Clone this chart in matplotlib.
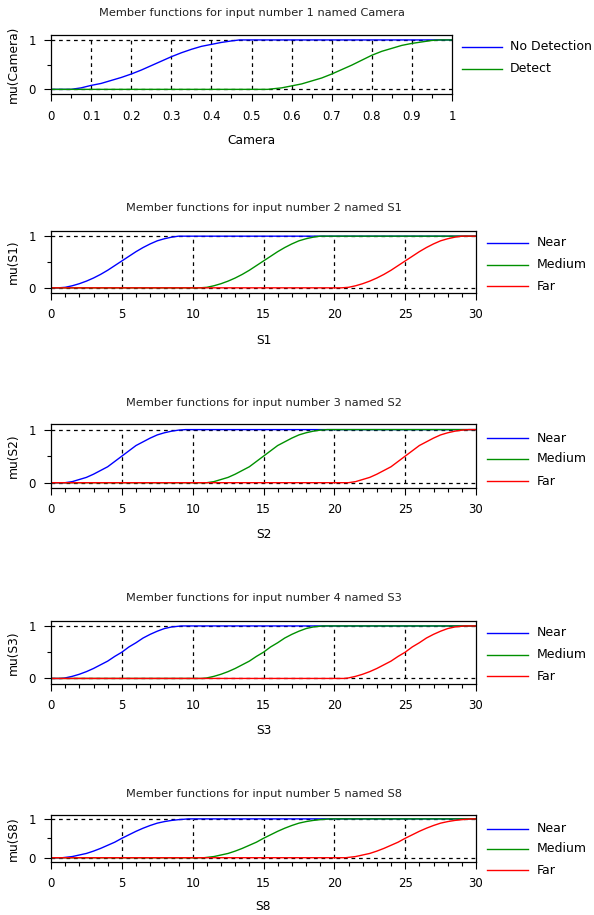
import matplotlib
matplotlib.use("Agg")
import matplotlib.pyplot as plt
from matplotlib.lines import Line2D

W, H = 594, 915

# ---- data ----
cam_x_nodet = [0, .05, .075, .1, .125, .15, .175, .2, .225, .25, .275, .3, .325, .35, .375, .4, .425, .45, .47, 1]
cam_y_nodet = [0, 0, .03, .08, .12, .18, .24, .31, .39, .48, .57, .66, .74, .81, .87, .91, .95, .98, 1, 1]
cam_x_det = [0, .54, .575, .6, .625, .65, .675, .7, .725, .75, .775, .8, .825, .85, .875, .9, .925, .95, .97, 1]
cam_y_det = [0, 0, .03, .07, .11, .17, .23, .31, .40, .49, .59, .69, .77, .83, .89, .93, .96, .99, 1, 1]

s1_near_x = [0, .5, 1, 1.5, 2, 2.5, 3, 3.5, 4, 4.5, 5, 5.5, 6, 6.5, 7, 7.5, 8, 8.5, 9, 30]
s1_near_y = [0, 0, .01, .04, .08, .13, .19, .26, .34, .43, .52, .61, .70, .78, .85, .91, .95, .98, 1, 1]
s1_med_x = [0, 10.5, 11, 11.5, 12, 12.5, 13, 13.5, 14, 14.5, 15, 15.5, 16, 16.5, 17, 17.5, 18, 18.5, 19, 30]
s1_med_y = [0, 0, .01, .04, .08, .13, .19, .26, .34, .43, .52, .61, .70, .78, .85, .91, .95, .98, 1, 1]
s1_far_x = [0, 20.5, 21, 21.5, 22, 22.5, 23, 23.5, 24, 24.5, 25, 25.5, 26, 26.5, 27, 27.5, 28, 28.5, 29, 30]
s1_far_y = [0, 0, .01, .04, .08, .13, .19, .26, .34, .43, .52, .61, .70, .78, .85, .91, .95, .98, 1, 1]

s2_near_x = [0, 1, 1.5, 2, 2.5, 3, 3.5, 4, 4.5, 5, 5.5, 6, 6.5, 7, 7.5, 8, 8.5, 9, 9.5, 30]
s2_near_y = [0, 0, .02, .06, .10, .16, .23, .30, .40, .50, .60, .70, .77, .84, .90, .94, .97, .99, 1, 1]
s2_med_x = [0, 11, 11.5, 12, 12.5, 13, 13.5, 14, 14.5, 15, 15.5, 16, 16.5, 17, 17.5, 18, 18.5, 19, 19.5, 30]
s2_med_y = [0, 0, .02, .06, .10, .16, .23, .30, .40, .50, .60, .70, .77, .84, .90, .94, .97, .99, 1, 1]
s2_far_x = [0, 21, 21.5, 22, 22.5, 23, 23.5, 24, 24.5, 25, 25.5, 26, 26.5, 27, 27.5, 28, 28.5, 29, 29.5, 30]
s2_far_y = [0, 0, .02, .06, .10, .16, .23, .30, .40, .50, .60, .70, .77, .84, .90, .94, .97, .99, 1, 1]

s3_near_x = [0, .7, 1, 1.5, 2, 2.5, 3, 3.5, 4, 4.5, 5, 5.5, 6, 6.5, 7, 7.5, 8, 8.5, 9.2, 30]
s3_near_y = [0, 0, .01, .04, .08, .13, .19, .26, .33, .42, .50, .60, .68, .77, .84, .90, .95, .98, 1, 1]
s3_med_x = [0, 10.7, 11, 11.5, 12, 12.5, 13, 13.5, 14, 14.5, 15, 15.5, 16, 16.5, 17, 17.5, 18, 18.5, 19.2, 30]
s3_med_y = [0, 0, .01, .04, .08, .13, .19, .26, .33, .42, .50, .60, .68, .77, .84, .90, .95, .98, 1, 1]
s3_far_x = [0, 20.7, 21, 21.5, 22, 22.5, 23, 23.5, 24, 24.5, 25, 25.5, 26, 26.5, 27, 27.5, 28, 28.5, 29.2, 30]
s3_far_y = [0, 0, .01, .04, .08, .13, .19, .26, .33, .42, .50, .60, .68, .77, .84, .90, .95, .98, 1, 1]

s8_near_x = [0, .8, 1.5, 2, 2.5, 3, 3.5, 4, 4.5, 5, 5.5, 6, 6.5, 7, 7.5, 8, 8.5, 9, 9.7, 30]
s8_near_y = [0, 0, .03, .07, .11, .17, .24, .32, .40, .50, .59, .68, .76, .83, .89, .93, .96, .98, 1, 1]
s8_med_x = [0, 10.8, 11.5, 12, 12.5, 13, 13.5, 14, 14.5, 15, 15.5, 16, 16.5, 17, 17.5, 18, 18.5, 19, 19.7, 30]
s8_med_y = [0, 0, .03, .07, .11, .17, .24, .32, .40, .50, .59, .68, .76, .83, .89, .93, .96, .98, 1, 1]
s8_far_x = [0, 20.8, 21.5, 22, 22.5, 23, 23.5, 24, 24.5, 25, 25.5, 26, 26.5, 27, 27.5, 28, 28.5, 29, 29.7, 30]
s8_far_y = [0, 0, .03, .07, .11, .17, .24, .32, .40, .50, .59, .68, .76, .83, .89, .93, .96, .98, 1, 1]

cam_ticks = [0, 0.1, 0.2, 0.3, 0.4, 0.5, 0.6, 0.7, 0.8, 0.9, 1]
cam_ticklabels = ["0", "0.1", "0.2", "0.3", "0.4", "0.5", "0.6", "0.7", "0.8", "0.9", "1"]
s_ticks = [0, 5, 10, 15, 20, 25, 30]
s_ticklabels = ["0", "5", "10", "15", "20", "25", "30"]

COLORS = ["#0000ff", "#009000", "#ff0000"]

plt.rcParams['font.family'] = ['DejaVu Sans']
fig = plt.figure(figsize=(W / 100, H / 100), dpi=100)


def px_axes(left, top, right, bottom):
    return fig.add_axes([left / W, 1 - bottom / H, (right - left) / W, (bottom - top) / H])


def make_panel(box, title, xlabel, ylabel, ticks, ticklabels, minor, series, names,
               title_y, label_y, leg):
    left, top, right, bottom = box
    ax = px_axes(left, top, right, bottom)
    xmin, xmax = ticks[0], ticks[-1]
    ax.set_xlim(xmin, xmax)
    ax.set_ylim(-0.1, 1.1)
    # dashed grid under the curves
    ax.hlines([0, 1], xmin, xmax, colors='black', linestyles=(0, (3, 3)), lw=0.9, zorder=1)
    ax.vlines(ticks[1:-1], 0, 1, colors='black', linestyles=(0, (3, 3)), lw=0.9, zorder=1)
    for (xs, ys), c in zip(series, COLORS):
        ax.plot(xs, ys, color=c, lw=1.0, zorder=2)
    ax.set_xticks(ticks)
    ax.set_xticklabels(ticklabels, fontsize=8.5)
    ax.set_xticks(minor, minor=True)
    ax.set_yticks([0, 1])
    ax.set_yticklabels(["0", "1"], fontsize=8.5)
    ax.set_yticks([0.5], minor=True)
    ax.tick_params(which='major', direction='out', length=5, width=0.8, pad=6)
    ax.tick_params(which='minor', direction='out', length=3, width=0.8)
    for sp in ax.spines.values():
        sp.set_linewidth(0.9)
    cx = (left + right) / 2
    fig.text(cx / W, 1 - title_y / H, title, ha='center', va='center', fontsize=8.2,
             color='#222222')
    fig.text(cx / W, 1 - label_y / H, xlabel, ha='center', va='center', fontsize=8.8)
    fig.text(13 / W, 1 - (top + bottom) / 2 / H, ylabel, ha='center', va='center',
             rotation=90, fontsize=8.8)
    lx0, lx1, tx, ys_leg = leg
    for name, c, yy in zip(names, COLORS, ys_leg):
        fig.add_artist(Line2D([lx0 / W, lx1 / W], [1 - yy / H, 1 - yy / H], color=c, lw=1.0))
        fig.text(tx / W, 1 - yy / H, name, ha='left', va='center', fontsize=9)
    return ax


cam_minor = [0.05, 0.15, 0.25, 0.35, 0.45, 0.55, 0.65, 0.75, 0.85, 0.95]
s_minor = [1, 2, 3, 4, 6, 7, 8, 9, 11, 12, 13, 14, 16, 17, 18, 19, 21, 22, 23, 24, 26, 27, 28, 29]

make_panel((51, 35, 452, 94.3), "Member functions for input number 1 named Camera",
           "Camera", "mu(Camera)", cam_ticks, cam_ticklabels, cam_minor,
           [(cam_x_nodet, cam_y_nodet), (cam_x_det, cam_y_det)], ["No Detection", "Detect"],
           13, 141, (462, 502, 510, [47, 69]))

make_panel((51, 231, 476, 293), "Member functions for input number 2 named S1",
           "S1", "mu(S1)", s_ticks, s_ticklabels, s_minor,
           [(s1_near_x, s1_near_y), (s1_med_x, s1_med_y), (s1_far_x, s1_far_y)],
           ["Near", "Medium", "Far"],
           208, 340, (487, 528, 537, [243, 265, 286]))

make_panel((51, 424.3, 476, 488), "Member functions for input number 3 named S2",
           "S2", "mu(S2)", s_ticks, s_ticklabels, s_minor,
           [(s2_near_x, s2_near_y), (s2_med_x, s2_med_y), (s2_far_x, s2_far_y)],
           ["Near", "Medium", "Far"],
           403, 535, (487, 528, 537, [438, 459, 481]))

make_panel((51, 620.7, 476, 683.7), "Member functions for input number 4 named S3",
           "S3", "mu(S3)", s_ticks, s_ticklabels, s_minor,
           [(s3_near_x, s3_near_y), (s3_med_x, s3_med_y), (s3_far_x, s3_far_y)],
           ["Near", "Medium", "Far"],
           598, 731, (487, 528, 537, [633, 655, 676]))

make_panel((51, 815, 476, 861.6), "Member functions for input number 5 named S8",
           "S8", "mu(S8)", s_ticks, s_ticklabels, s_minor,
           [(s8_near_x, s8_near_y), (s8_med_x, s8_med_y), (s8_far_x, s8_far_y)],
           ["Near", "Medium", "Far"],
           794, 907, (487, 528, 537, [829, 849, 870]))

fig.savefig("out.png", dpi=100)
